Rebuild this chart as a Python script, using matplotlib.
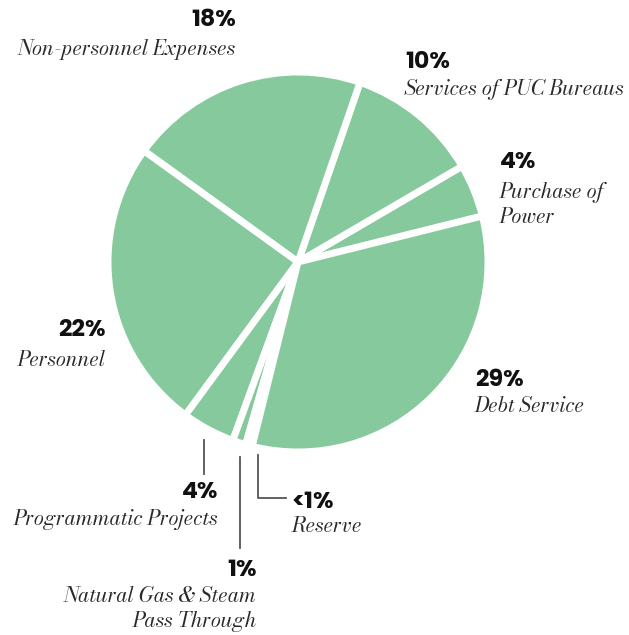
import matplotlib
matplotlib.use("Agg")
import matplotlib.pyplot as plt

# counterclockwise order, starting at the Purchase of Power wedge
names = ["Purchase of\nPower", "Services of PUC Bureaus", "Non-personnel Expenses",
         "Personnel", "Programmatic Projects", "Natural Gas & Steam\nPass Through",
         "Reserve", "Debt Service"]
values = [4, 10, 18, 22, 4, 1, 0.5, 29]
pct_labels = ["4%", "10%", "18%", "22%", "4%", "1%", "<1%", "29%"]

W, H = 629, 635
fig = plt.figure(figsize=(W / 100, H / 100), dpi=100)
ax = fig.add_axes([0, 0, 1, 1])

cx, cy, r = 298, H - 262, 190
ax.pie(values, startangle=14, center=(cx, cy), radius=r, colors=["#86c99d"] * len(values),
       wedgeprops=dict(edgecolor="white", linewidth=5), frame=True)
ax.set_xlim(0, W)
ax.set_ylim(0, H)
ax.axis("off")

pct_font = ["Poppins", "Lato", "DejaVu Sans"]
name_font = ["Bodoni Moda", "Libre Bodoni", "Liberation Serif"]

# label positions in pixel coords (x, y of pct, y of name, alignment)
pos = {
    0: (500, 163, 205, "left"),
    1: (405, 62, 90, "left"),
    2: (236, 20, 50, "right"),
    3: (106, 331, 360, "right"),
    4: (218, 492, 520, "right"),
    5: (257, 570, 609, "right"),
    6: (292, 502, 527, "left"),
    7: (475, 380, 406, "left"),
}
for i, (x, yp, yn, ha) in pos.items():
    ax.text(x, H - yp, pct_labels[i], ha=ha, va="center", fontsize=17,
            fontweight="bold", family=pct_font, color="#111111")
    ax.text(x, H - yn, names[i], ha=ha, va="center", fontsize=14.8, style="italic",
            family=name_font, color="#2a2a2a", linespacing=1.2, multialignment=ha)

lc = "#555555"
ax.plot([204, 204], [H - 440, H - 474], color=lc, lw=1.3)
ax.plot([240, 240], [H - 457, H - 548], color=lc, lw=1.3)
ax.plot([258, 258, 286], [H - 455, H - 498, H - 498], color=lc, lw=1.3)

fig.savefig("out.png", dpi=100)
